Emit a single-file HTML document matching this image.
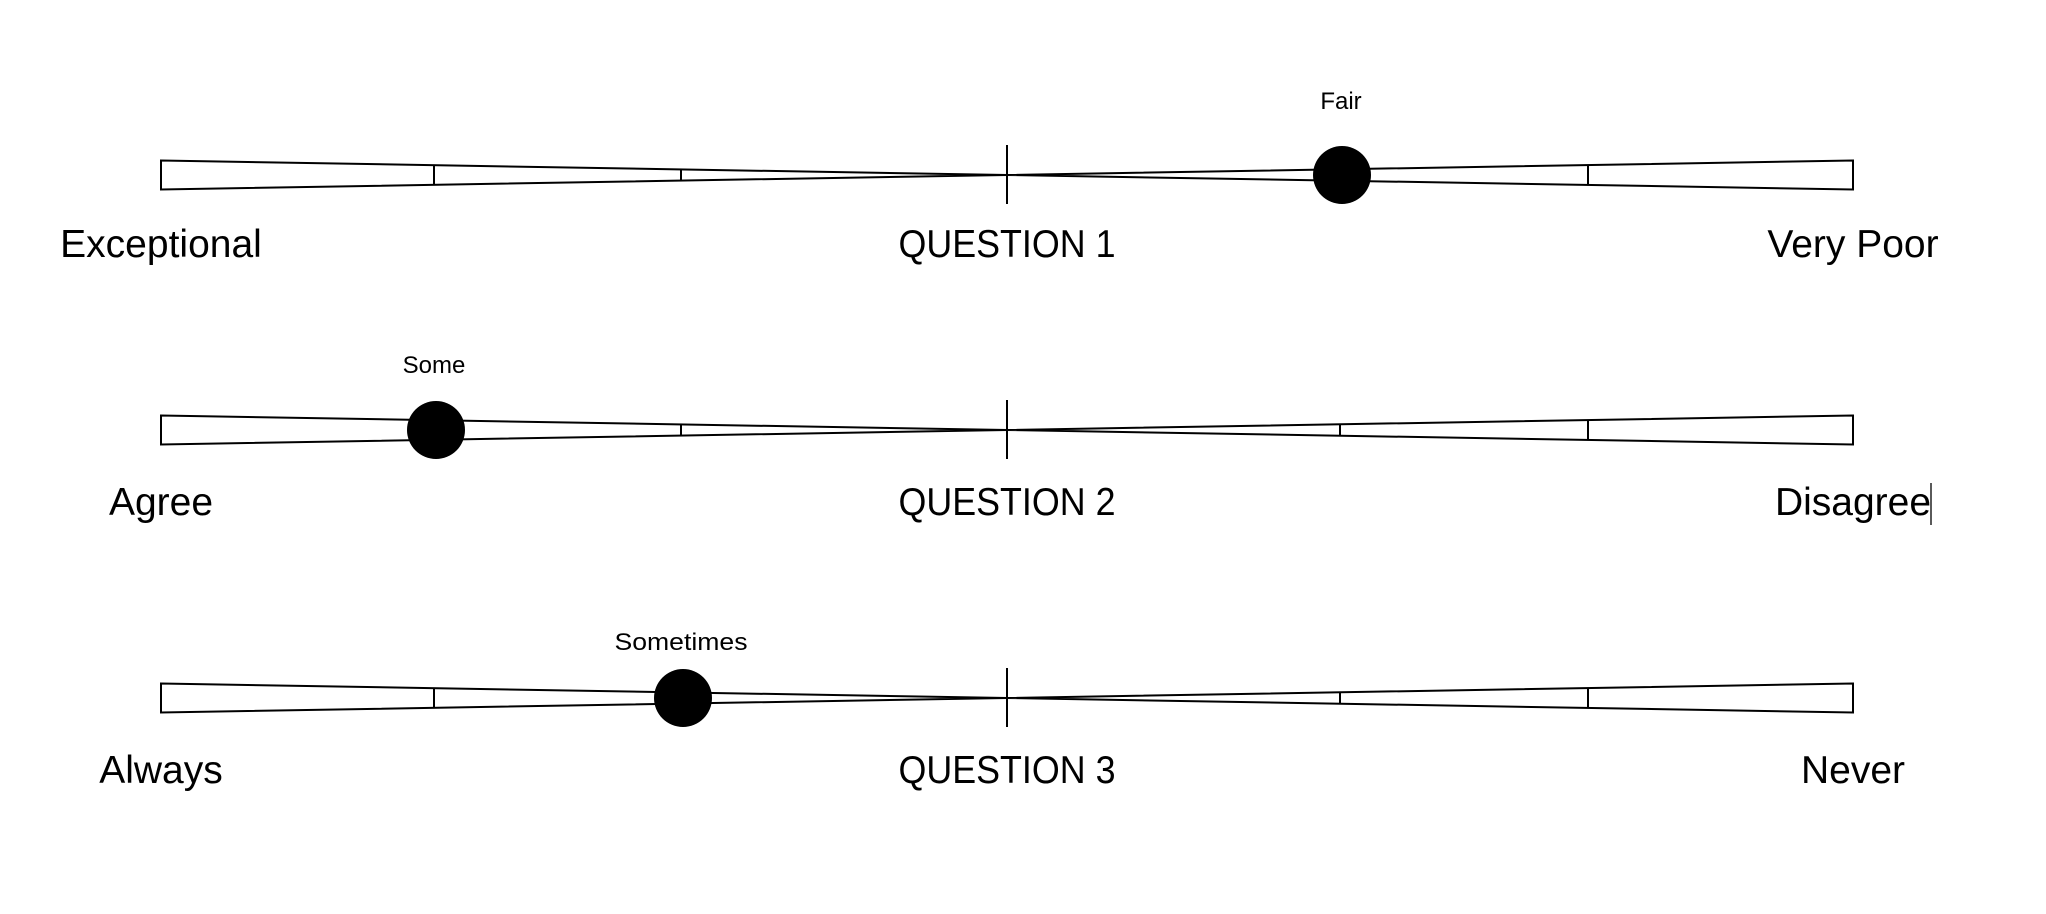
<!DOCTYPE html>
<html><head><style>html,body{margin:0;padding:0;background:#fff}svg{display:block}</style></head>
<body>
<svg width="2046" height="914" viewBox="0 0 2046 914" xmlns="http://www.w3.org/2000/svg">
<defs>
<g id="bar" fill="#fff" stroke="#000" stroke-width="2">
<polygon points="161,-14.5 1007,0 161,14.5"/>
<polygon points="1853,-14.5 1007,0 1853,14.5"/>
<line x1="434" y1="-9.8" x2="434" y2="9.8"/>
<line x1="681" y1="-5.6" x2="681" y2="5.6"/>
<line x1="1340" y1="-5.7" x2="1340" y2="5.7"/>
<line x1="1588" y1="-10" x2="1588" y2="10"/>
<line x1="1007" y1="-30" x2="1007" y2="29"/>
</g>
</defs>
<g font-family="Liberation Sans, sans-serif" fill="#000" text-anchor="middle">
<use href="#bar" transform="translate(0,175)"/>
<circle cx="1342" cy="175" r="29"/>
<text x="1341" y="109" font-size="24">Fair</text>
<text x="161" y="257" font-size="39">Exceptional</text>
<text x="1007" y="257" font-size="39" textLength="217" lengthAdjust="spacingAndGlyphs">QUESTION 1</text>
<text x="1853" y="257" font-size="39">Very Poor</text>

<use href="#bar" transform="translate(0,430)"/>
<circle cx="436" cy="430" r="29"/>
<text x="434" y="373" font-size="24">Some</text>
<text x="161" y="515" font-size="39">Agree</text>
<text x="1007" y="515" font-size="39" textLength="217" lengthAdjust="spacingAndGlyphs">QUESTION 2</text>
<text x="1853" y="515" font-size="39">Disagree</text>
<line x1="1931" y1="483" x2="1931" y2="525" stroke="#000" stroke-width="1.3"/>

<use href="#bar" transform="translate(0,698)"/>
<circle cx="683" cy="698" r="29"/>
<text x="681" y="650" font-size="24" textLength="133" lengthAdjust="spacingAndGlyphs">Sometimes</text>
<text x="161" y="783" font-size="39">Always</text>
<text x="1007" y="783" font-size="39" textLength="217" lengthAdjust="spacingAndGlyphs">QUESTION 3</text>
<text x="1853" y="783" font-size="39">Never</text>
</g>
</svg>
</body></html>
